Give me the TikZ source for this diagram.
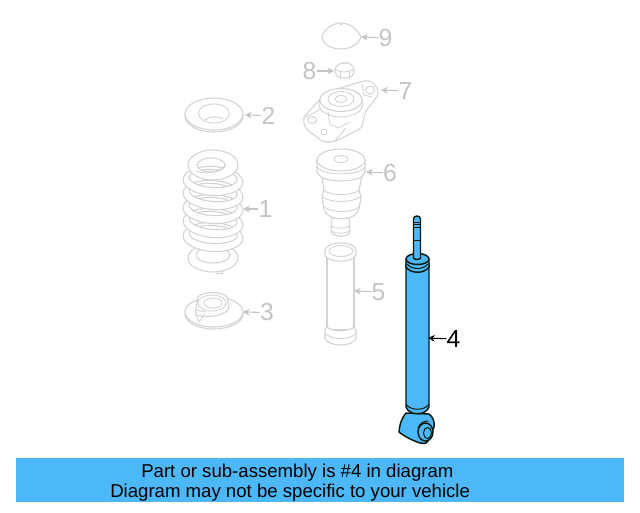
\documentclass[tikz,border=0pt]{standalone}
\usepackage{fontspec}
\setmainfont{Liberation Sans}
\usetikzlibrary{arrows.meta}
\definecolor{partgray}{HTML}{D2D2D2}
\definecolor{labelgray}{HTML}{C4C4C4}
\definecolor{partblue}{HTML}{4DB8F8}
\definecolor{edgeblk}{HTML}{0A1A10}
\tikzset{
  part/.style={draw=partgray,line width=0.8pt,fill=white,line join=round},
  partline/.style={draw=partgray,line width=0.65pt,line cap=round},
  bluepart/.style={draw=edgeblk,line width=1.1pt,fill=partblue,line join=round},
  blueline/.style={draw=edgeblk,line width=0.75pt,line cap=round},
  numlabel/.style={text=labelgray,font=\fontsize{18.5}{20}\selectfont,inner sep=0pt},
  numdark/.style={text=black,font=\fontsize{18.5}{20}\selectfont,inner sep=0pt},
  leader/.style={draw=labelgray,line width=0.8pt,-{Stealth[length=5pt,width=5pt]}},
  leaderdark/.style={draw=black,line width=0.8pt,-{Stealth[length=5pt,width=5pt]}},
  banner/.style={font=\fontsize{13.95}{16}\selectfont,inner sep=0pt,text=black}
}
\begin{document}
\begin{tikzpicture}[x=0.75pt,y=-0.75pt]
\useasboundingbox (0,0) rectangle (640,512);
\fill[white] (0,0) rectangle (640,512);

% part 2 washer
\draw[part] (214,116) ellipse [x radius=29,y radius=16];
\draw[part] (214,114) ellipse [x radius=29,y radius=16];
\draw[partline] (198.5,113.5) arc [start angle=180,end angle=-180,x radius=15.5,y radius=9.5];
\draw[partline] (205,120) .. controls (210,116) and (218,116) .. (223,119);

% part 1 spring: rings drawn bottom to top, each leaving its hole open
\draw[part,even odd rule] (213,258) ellipse [x radius=25,y radius=14] (213,255) ellipse [x radius=17,y radius=8];
\draw[partline] (222,271) -- (222,273) -- (216,273);
\foreach \yy/\aa in {237/-3,223/-5,209/-3,195/-5,181/-3}{
  \draw[part,even odd rule,rotate around={\aa:(213,\yy)}] (213,\yy) ellipse [x radius=30,y radius=14.5] (213,\yy-2.5) ellipse [x radius=24,y radius=9];
}
\draw[part,even odd rule] (213,165) ellipse [x radius=25,y radius=15] (211,165) ellipse [x radius=14,y radius=7];
\draw[partline] (196,171) .. controls (205,175) and (220,172) .. (226,165);

% part 3 seat
\draw[part] (214,314) ellipse [x radius=29,y radius=15];
\draw[part] (214,312) ellipse [x radius=29,y radius=15];
\draw[part] (198,297) .. controls (203,291) and (222,291) .. (227,297) -- (229,309)
  .. controls (222,317) and (205,318) .. (196,315) -- (196,309) -- cycle;
\draw[partline] (212,303) ellipse [x radius=14,y radius=8];
\draw[partline] (213,303) ellipse [x radius=9,y radius=5];
\draw[partline] (196,310) -- (206,312) (196,315) -- (199,322) -- (205,314);

% part 9 cap
\draw[part] (322,37) .. controls (324,29) and (333,23) .. (341,23)
  .. controls (350,23) and (358,30) .. (361,37)
  .. controls (358,45) and (350,49) .. (341,49)
  .. controls (332,49) and (323,45) .. (322,37) -- cycle;
\draw[partline] (340,24) -- (342,24);

% part 8 nut
\draw[part,rounded corners=1.5pt] (335,68) -- (340,63) -- (350,63) -- (354,68) -- (354,74) -- (349,78) -- (340,78) -- (335,74) -- cycle;
\draw[partline] (335,69) .. controls (339,73) and (349,73) .. (354,69);
\draw[partline] (340,72) -- (340,78) (349,72) -- (349,78);

% part 7 mount
\draw[part,rounded corners=3pt] (303,118) -- (322,97) -- (330,91) -- (360,82) -- (370,80) -- (379,90) -- (377,97)
  -- (365,112) -- (362,128) -- (334,142) -- (323,142) -- (305,128) -- cycle;
\draw[partline] (341,104) ellipse [x radius=22,y radius=13];
\draw[part] (341,100) ellipse [x radius=21,y radius=11.5];
\draw[partline] (341,99) ellipse [x radius=13,y radius=7.5];
\draw[partline] (341,99) ellipse [x radius=6,y radius=3.5];
\draw[partline] (370,90) ellipse [x radius=4.5,y radius=4];
\draw[partline] (312,120) ellipse [x radius=4.5,y radius=3.5];
\draw[partline] (324,132) ellipse [x radius=3,y radius=3];
\draw[partline] (328,112) -- (330,124) -- (338,128) -- (350,122);
\draw[partline] (334,142) -- (346,128);
\draw[partline] (362,84) -- (364,95) -- (372,97);
\draw[partline] (303,118) -- (316,112) -- (321,108);

% part 6 bumper
\draw[part] (332,218) -- (331,231) .. controls (332,238) and (350,238) .. (350,231) -- (349,218) -- cycle;
\draw[partline] (331,226) .. controls (336,229) and (345,229) .. (350,226);
\draw[partline] (331,231) .. controls (336,234) and (345,234) .. (350,231);
\draw[part] (322,176) -- (324,190) -- (322,197) -- (324,209) .. controls (326,222) and (356,222) .. (359,209) -- (361,197) -- (359,190) -- (362,176) -- cycle;
\draw[partline] (323,190) .. controls (330,196) and (352,196) .. (360,190);
\draw[partline] (323,197) .. controls (330,203) and (352,203) .. (360,197);
\draw[partline] (324,207) .. controls (332,213) and (352,213) .. (359,207);
\draw[part] (317,160) -- (317,171) .. controls (319,178) and (324,180) .. (341,181)
  .. controls (358,180) and (363,178) .. (365,171) -- (365,160) -- cycle;
\draw[part] (341,160) ellipse [x radius=24,y radius=11];
\draw[partline] (341,159) ellipse [x radius=7,y radius=3.5];
\draw[partline] (317,167) .. controls (322,176) and (360,176) .. (365,167);

% part 5 boot
\draw[part] (327,255) -- (327,330) -- (354,330) -- (354,255) -- cycle;
\draw[part] (325,331) .. controls (325,328) and (326,328) .. (327,327)
  .. controls (332,332) and (349,332) .. (354,327) -- (356,331) -- (356,339)
  .. controls (352,347) and (330,347) .. (325,339) -- cycle;
\draw[partline] (326,334) .. controls (332,340) and (350,340) .. (355,334);
\draw[part] (325,251) .. controls (325,245) and (334,243) .. (341,243)
  .. controls (348,243) and (356,245) .. (356,251) -- (356,256)
  .. controls (350,263) and (331,263) .. (325,256) -- cycle;
\draw[partline] (341,251) ellipse [x radius=12,y radius=5.5];

% part 4 shock absorber
\draw[bluepart] (406,413) .. controls (403,417) and (400,421) .. (399,432)
  .. controls (405,437) and (414,441) .. (420,443)
  .. controls (423,444) and (426,444) .. (428,441)
  -- (434,427) .. controls (435,422) and (433,417) .. (429,414) -- cycle;
\draw[bluepart] (406,263) -- (406,407) .. controls (409,416) and (426,416) .. (429,407) -- (429,263) -- cycle;
\draw[blueline] (406,404) .. controls (410,411) and (425,411) .. (429,404);
\draw[bluepart] (406,259) -- (406,267) .. controls (411,274) and (424,274) .. (429,267) -- (429,259) -- cycle;
\draw[bluepart] (417.5,259) ellipse [x radius=11.5,y radius=5.5];
\draw[blueline] (407,264) .. controls (412,270) and (423,270) .. (428,264);
\draw[bluepart] (413.5,219) .. controls (413.5,215) and (420.5,215) .. (420.5,219) -- (420.5,258)
  .. controls (419,260) and (415,260) .. (413.5,258) -- cycle;
\draw[blueline] (414,222) -- (420,222) (414,224.5) -- (420,224.5) (414,227) -- (420,227);
\draw[blueline] (414,240) -- (420,240);
\draw[blueline] (418,428) .. controls (420,423) and (424,421) .. (428,421);
\draw[bluepart] (425.5,432) ellipse [x radius=7.5,y radius=9];
\draw[blueline] (427.5,433) ellipse [x radius=4,y radius=5.5];

% leaders and numbers
\node[numlabel] (n1) at (265.5,209) {1};
\coordinate (t1) at (243,209);
\draw[leader] (n1) -- (t1);
\node[numlabel] (n2) at (268.5,115.5) {2};
\coordinate (t2) at (245,115);
\draw[leader] (n2) -- (t2);
\node[numlabel] (n3) at (267,312.5) {3};
\coordinate (t3) at (243,312);
\draw[leader] (n3) -- (t3);
\node[numdark] (n4) at (453.5,339) {4};
\coordinate (t4) at (428,338);
\draw[leaderdark] (n4) -- (t4);
\node[numlabel] (n5) at (378.5,292) {5};
\coordinate (t5) at (354,291);
\draw[leader] (n5) -- (t5);
\node[numlabel] (n6) at (390,173) {6};
\coordinate (t6) at (366,172);
\draw[leader] (n6) -- (t6);
\node[numlabel] (n7) at (405.5,91) {7};
\coordinate (t7) at (381,90);
\draw[leader] (n7) -- (t7);
\node[numlabel] (n8) at (309.5,71) {8};
\coordinate (t8) at (334,71);
\draw[leader] (n8) -- (t8);
\node[numlabel] (n9) at (385.5,38) {9};
\coordinate (t9) at (361,37);
\draw[leader] (n9) -- (t9);

% banner
\fill[partblue] (16,458) rectangle (624,502);
\node[banner,anchor=base west] (b1) at (141,477) {Part or sub-assembly is \#4 in diagram};
\node[banner,anchor=base west] (b2) at (110,497) {Diagram may not be specific to your vehicle};
\end{tikzpicture}
\end{document}
